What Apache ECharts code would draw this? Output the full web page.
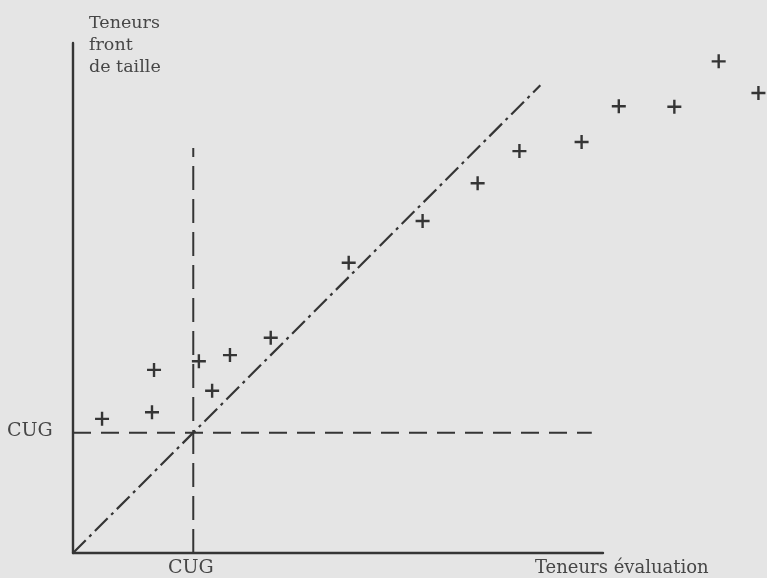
<!DOCTYPE html>
<html>
<head>
<meta charset="utf-8">
<script src="https://cdn.jsdelivr.net/npm/echarts@6/dist/echarts.min.js"></script>
<style>
  html, body { margin: 0; padding: 0; background: #e5e5e5; }
  #chart { width: 767px; height: 578px; }
</style>
</head>
<body>
<div id="chart"></div>
<script>
// samples: evaluation grade (x) vs face grade (y)
const evalGrades = [5.7, 15.5, 15.9, 24.7, 27.3, 30.8, 38.8, 54.1, 68.6, 79.4, 87.6, 99.8, 107.1, 118.0, 126.7, 134.5]
const faceGrades = [26.3, 27.6, 35.9, 37.6, 31.8, 38.8, 42.2, 56.9, 65.1, 72.5, 78.8, 80.6, 87.6, 87.5, 96.4, 90.2]
const cug = 23.6
const diagEnd = 91.7
const cugVTop = 79.4
const cugHEnd = 101.8

const ink = '#353535'
const textColor = '#464646'
const font = '"DejaVu Serif"'
const plus = 'path://M0,5.8H14V8.2H0Z M5.8,0H8.2V14H5.8Z'

const chart = echarts.init(document.getElementById('chart'))
chart.setOption({
  backgroundColor: '#e5e5e5',
  animation: false,
  grid: { left: 73, top: 43, width: 530, height: 510 },
  xAxis: {
    type: 'value', min: 0, max: 104,
    axisLine: { show: true, lineStyle: { color: ink, width: 2.4 } },
    axisTick: { show: false },
    axisLabel: { show: false },
    splitLine: { show: false }
  },
  yAxis: {
    type: 'value', min: 0, max: 100,
    axisLine: { show: true, lineStyle: { color: ink, width: 2.4 } },
    axisTick: { show: false },
    axisLabel: { show: false },
    splitLine: { show: false }
  },
  series: [
    {
      type: 'line',
      data: [[0, 0], [diagEnd, diagEnd]],
      symbol: 'none',
      lineStyle: { color: ink, width: 2.2, type: [18, 5, 3, 5] }
    },
    {
      type: 'line',
      data: [[cug, 0], [cug, cugVTop]],
      symbol: 'none',
      lineStyle: { color: ink, width: 2, type: [24, 9] }
    },
    {
      type: 'line',
      data: [[0, cug], [cugHEnd, cug]],
      symbol: 'none',
      lineStyle: { color: ink, width: 2, type: [18, 10] }
    },
    {
      type: 'scatter',
      clip: false,
      data: evalGrades.map((x, i) => [x, faceGrades[i]]),
      symbol: plus,
      symbolSize: 14,
      itemStyle: { color: ink, opacity: 1 }
    }
  ],
  graphic: [
    {
      type: 'text', left: 89, top: 12,
      style: { text: 'Teneurs\nfront\nde taille', fill: textColor, font: '17.5px ' + font, lineHeight: 22 }
    },
    {
      type: 'text', left: 7, top: 422,
      style: { text: 'CUG', fill: textColor, font: '19px ' + font }
    },
    {
      type: 'text', left: 168, top: 559,
      style: { text: 'CUG', fill: textColor, font: '19px ' + font }
    },
    {
      type: 'text', left: 535, top: 559,
      style: { text: 'Teneurs évaluation', fill: textColor, font: '18px ' + font }
    }
  ]
})
</script>
</body>
</html>
